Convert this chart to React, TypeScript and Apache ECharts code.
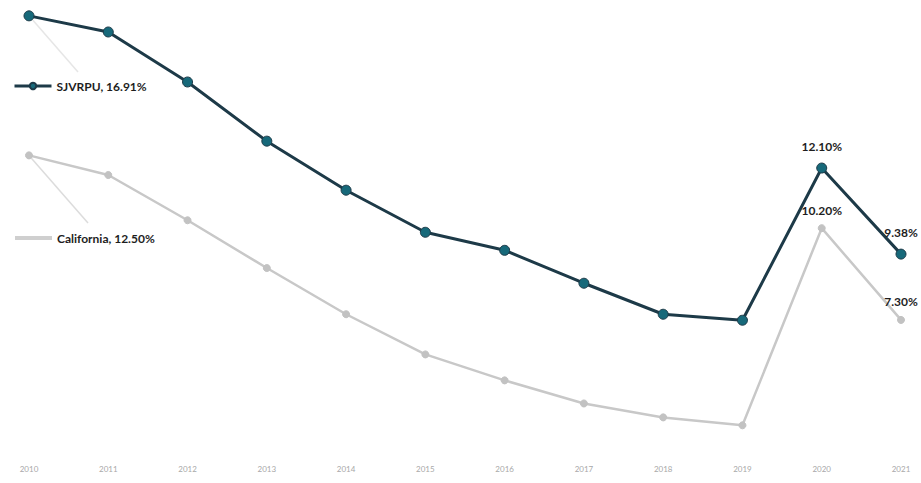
import React, { useEffect, useRef } from "react";
import * as echarts from "echarts";

// Annual unemployment rate (%), 2010–2021
const years = ["2010", "2011", "2012", "2013", "2014", "2015", "2016", "2017", "2018", "2019", "2020", "2021"];
const sjvrpu = [16.91, 16.4, 14.82, 12.95, 11.4, 10.07, 9.5, 8.46, 7.48, 7.29, 12.1, 9.38];
const california = [12.5, 11.88, 10.45, 8.94, 7.48, 6.21, 5.39, 4.66, 4.22, 3.97, 10.2, 7.3];
// Points that carry a value label
const labelledYears = ["2020", "2021"];

const FONT = "Lato, 'Open Sans', sans-serif";

const pct = (v: number) => `${v.toFixed(2)}%`;

function withLabels(values: number[], distance: number) {
  return values.map((v, i) =>
    labelledYears.includes(years[i])
      ? {
          value: v,
          label: {
            show: true,
            position: "top",
            distance,
            formatter: () => pct(v),
            fontFamily: FONT,
            fontWeight: "bold",
            fontSize: 12,
            color: "#1e1e1e",
          },
        }
      : v
  );
}

export default function App() {
  const ref = useRef<HTMLDivElement>(null);

  useEffect(() => {
    if (!ref.current) return;
    const chart = echarts.init(ref.current, null, { renderer: "svg" });

    const legendText = {
      fontFamily: FONT,
      fontWeight: "bold" as const,
      fontSize: 12,
      color: "#1e1e1e",
    };

    chart.setOption({
      animation: false,
      backgroundColor: "#ffffff",
      grid: { left: 29, right: 20, top: 13, bottom: 27 },
      legend: [
        {
          data: ["SJVRPU"],
          left: 8,
          top: 75,
          itemWidth: 37,
          itemHeight: 8,
          itemGap: 6,
          textStyle: legendText,
          lineStyle: { width: 3 },
          formatter: (name: string) => `${name}, ${pct(sjvrpu[0])}`,
        },
        {
          data: ["California"],
          left: 8,
          top: 227,
          itemWidth: 37,
          itemHeight: 8,
          textStyle: legendText,
          itemStyle: { opacity: 0 },
          lineStyle: { width: 4, color: "#cfcfcf" },
          formatter: (name: string) => `${name}, ${pct(california[0])}`,
        },
      ],
      xAxis: {
        type: "category",
        data: years,
        boundaryGap: false,
        axisLine: { show: false },
        axisTick: { show: false },
        axisLabel: {
          margin: 9,
          fontFamily: FONT,
          fontSize: 8,
          color: "#a8a8a8",
        },
        splitLine: { show: false },
      },
      yAxis: {
        type: "value",
        min: 3,
        max: 17,
        show: false,
        splitLine: { show: false },
      },
      series: [
        {
          name: "California",
          type: "line",
          data: withLabels(california, 8),
          symbol: "circle",
          symbolSize: 7,
          lineStyle: { color: "#c8c8c8", width: 2.5 },
          itemStyle: { color: "#c2c2c2", borderColor: "#c2c2c2" },
          z: 2,
        },
        {
          name: "SJVRPU",
          type: "line",
          data: withLabels(sjvrpu, 10),
          symbol: "circle",
          symbolSize: 10,
          lineStyle: { color: "#1d3a48", width: 3 },
          itemStyle: { color: "#17697a", borderColor: "#1d3a48", borderWidth: 1 },
          z: 3,
        },
      ],
    });

    // Leader lines from the first points to their name labels
    const p1 = chart.convertToPixel({ seriesIndex: 1 }, [0, sjvrpu[0]]) as number[];
    const p2 = chart.convertToPixel({ seriesIndex: 0 }, [0, california[0]]) as number[];
    chart.setOption({
      graphic: [
        {
          type: "line",
          shape: { x1: p1[0], y1: p1[1], x2: 78, y2: 72 },
          style: { stroke: "#e6e6e6", lineWidth: 1.5 },
          z: 1,
        },
        {
          type: "line",
          shape: { x1: p2[0], y1: p2[1], x2: 88, y2: 223 },
          style: { stroke: "#dcdcdc", lineWidth: 1.5 },
          z: 1,
        },
      ],
    });

    return () => chart.dispose();
  }, []);

  return (
    <div
      ref={ref}
      style={{ position: "fixed", left: 0, top: 0, width: 921, height: 483 }}
    />
  );
}
